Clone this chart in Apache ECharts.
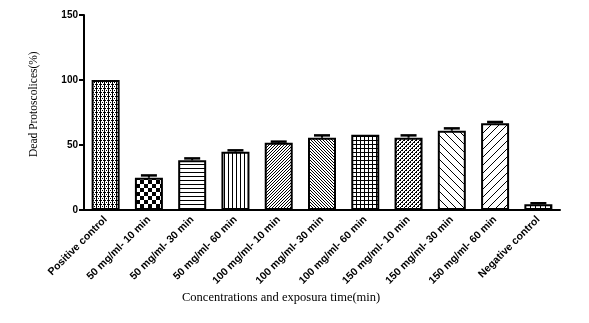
<!DOCTYPE html>
<html><head><meta charset="utf-8">
<script src="https://cdn.jsdelivr.net/npm/echarts@6/dist/echarts.min.js"></script>
<style>html,body{margin:0;padding:0;background:#fff}#c{width:589px;height:323px}</style>
</head><body><div id="c"></div>
<script>
const categories = ['Positive control','50 mg/ml- 10 min','50 mg/ml- 30 min','50 mg/ml- 60 min','100 mg/ml- 10 min','100 mg/ml- 30 min','100 mg/ml- 60 min','150 mg/ml- 10 min','150 mg/ml- 30 min','150 mg/ml- 60 min','Negative control'];
const values = [100, 24.8, 38.2, 44.9, 51.8, 55.6, 57.9, 55.6, 61.0, 66.7, 4.4];
const errors = [0, 1.8, 1.5, 1.0, 0.8, 1.8, 0, 1.8, 1.8, 1.0, 0.8];
const yTicks = [0, 50, 100, 150];

function pat(w, h, draw) {
  const c = document.createElement('canvas');
  c.width = w; c.height = h;
  const g = c.getContext('2d');
  g.fillStyle = '#fff'; g.fillRect(0, 0, w, h);
  g.fillStyle = '#000';
  draw(g, w, h);
  return { image: c, repeat: 'repeat' };
}
function diag(g, n, dir) { // dir 1 = '/', -1 = '\'
  for (let i = 0; i < n; i++) g.fillRect(dir > 0 ? n - 1 - i : i, i, 1, 1);
}
const patterns = [
  pat(4, 4, g => { g.fillRect(0, 0, 4, 1); g.fillRect(0, 0, 1, 4); g.fillRect(2, 2, 1, 1); g.fillRect(0, 2, 1, 1); g.fillRect(2, 0, 1, 1); g.fillStyle = '#fff'; g.fillRect(2, 0, 1, 1); }),
  pat(8, 8, g => { g.fillRect(0, 0, 4, 4); g.fillRect(4, 4, 4, 4); }),
  pat(4, 4, g => { g.fillRect(0, 0, 4, 1); }),
  pat(4, 4, g => { g.fillRect(0, 0, 1, 4); }),
  pat(3, 3, g => diag(g, 3, 1)),
  pat(3, 3, g => diag(g, 3, -1)),
  pat(4, 4, g => { g.fillRect(0, 0, 4, 1); g.fillRect(0, 0, 1, 4); }),
  pat(4, 4, g => { diag(g, 4, 1); g.fillRect(0, 0, 1, 1); g.fillRect(2, 2, 1, 1); }),
  pat(8, 8, g => diag(g, 8, -1)),
  pat(8, 8, g => diag(g, 8, 1)),
  pat(5, 5, g => { g.fillRect(0, 0, 1, 5); })
];

const chart = echarts.init(document.getElementById('c'), null, { renderer: 'canvas' });
const txtFont = '"Liberation Serif", "Times New Roman", serif';
chart.setOption({
  animation: false,
  backgroundColor: '#fff',
  grid: { left: 84, right: 29, top: 15, bottom: 113 },
  xAxis: {
    type: 'category', data: categories,
    axisLine: { lineStyle: { color: '#000', width: 2 } },
    axisTick: { alignWithLabel: true, length: 5, lineStyle: { color: '#000', width: 2 } },
    axisLabel: { rotate: 45, interval: 0, margin: 8, color: '#000', fontFamily: 'Liberation Sans, Arial', fontWeight: 'bold', fontSize: 10.5 }
  },
  yAxis: {
    type: 'value', min: yTicks[0], max: yTicks[yTicks.length - 1], interval: 50,
    splitLine: { show: false },
    axisLine: { show: true, lineStyle: { color: '#000', width: 2 } },
    axisTick: { show: true, length: 5, lineStyle: { color: '#000', width: 2 } },
    axisLabel: { color: '#000', fontFamily: 'Liberation Sans, Arial', fontWeight: 'bold', fontSize: 10, margin: 6 }
  },
  graphic: [
    { type: 'text', originX: 0, originY: 0, x: 28, y: 157, rotation: Math.PI / 2,
      style: { text: 'Dead Protoscolices(%)', font: '11.5px ' + txtFont, fill: '#000' } },
    { type: 'text', x: 182, y: 291,
      style: { text: 'Concentrations and exposura time(min)', font: '12.5px ' + txtFont, fill: '#000' } }
  ],
  series: [
    {
      type: 'bar', barWidth: 28,
      data: values.map((v, i) => ({ value: v, itemStyle: { color: patterns[i], borderColor: '#000', borderWidth: 2 } }))
    },
    {
      type: 'custom', z: 5,
      data: values.map((v, i) => [i, v, errors[i]]),
      renderItem: (params, api) => {
        const i = api.value(0), v = api.value(1), e = api.value(2);
        if (!e) return null;
        const p0 = api.coord([i, v]);
        const p1 = api.coord([i, v + e]);
        return {
          type: 'group', children: [
            { type: 'line', shape: { x1: p0[0], y1: p0[1], x2: p1[0], y2: p1[1] }, style: { stroke: '#000', lineWidth: 2 } },
            { type: 'line', shape: { x1: p1[0] - 8, y1: p1[1], x2: p1[0] + 8, y2: p1[1] }, style: { stroke: '#000', lineWidth: 2.5 } }
          ]
        };
      }
    }
  ]
});
</script></body></html>
